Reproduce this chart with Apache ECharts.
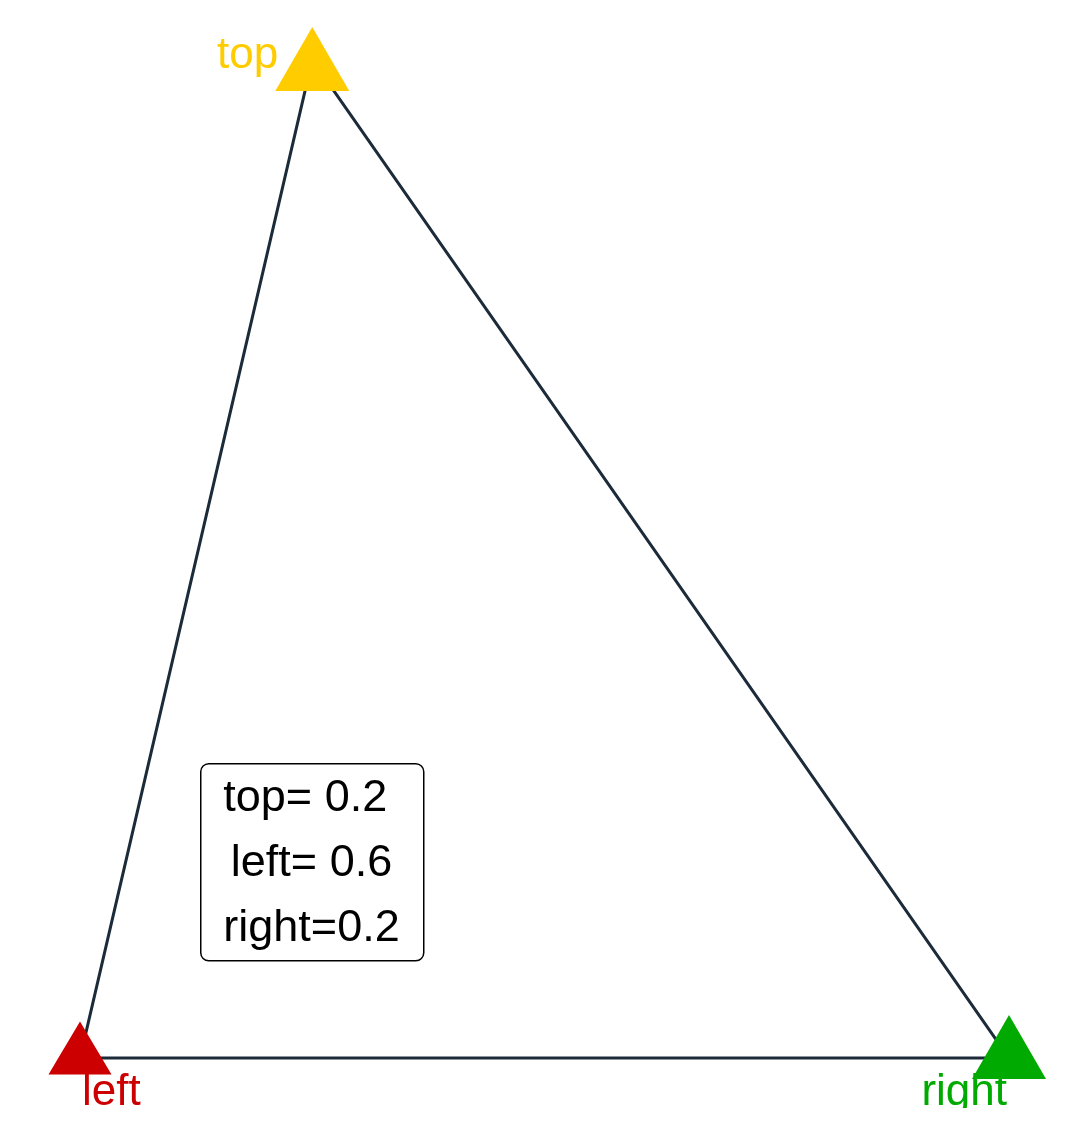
<!DOCTYPE html>
<html>
<head>
<meta charset="utf-8">
<script src="https://cdn.jsdelivr.net/npm/echarts@6/dist/echarts.min.js"></script>
<style>html,body{margin:0;padding:0;background:#fff}#c{width:1078px;height:1143px}</style>
</head>
<body>
<div id="c"></div>
<script>
// vertex names and their (x, y) position in the frame
var vertexNames = ['top', 'left', 'right'];
var vertexX = [0.25, 0, 1];
var vertexY = [1, 0, 0];
var vertexColors = ['#FFCC00', '#CC0000', '#00AA00'];
// composition shown in the box
var boxPrefixes = ['top= ', 'left= ', 'right='];
var boxSuffixes = [' ', '', ''];
var boxValues = [0.2, 0.6, 0.2];

var pts = vertexNames.map(function (n, i) { return [vertexX[i], vertexY[i]]; });
var edge = [pts[0], pts[1], pts[2], pts[0]];

var markerSizes = [[74, 64], [63, 53], [74, 64]];
var markerOffsets = [[0, -1], [0, -10], [0, -11]];
var labelOffsets = [[-34, -4], [2, 35], [-2, 35]];
var labelAligns = ['right', 'left', 'right'];

var boxText = boxPrefixes.map(function (p, i) { return p + boxValues[i].toFixed(1) + boxSuffixes[i]; }).join('\n');

var chart = echarts.init(document.getElementById('c'));
chart.setOption({
  animation: false,
  backgroundColor: '#ffffff',
  grid: { left: 80, right: 69, top: 0, bottom: 35 },
  xAxis: { type: 'value', min: 0, max: 1, show: false },
  yAxis: { type: 'value', min: -0.05, max: 1.06, show: false },
  series: [
    {
      type: 'line',
      data: edge,
      symbol: 'none',
      clip: false,
      lineStyle: { color: '#1c2b39', width: 3 },
      z: 1
    },
    {
      type: 'scatter',
      clip: false,
      data: pts.map(function (p, i) {
        return {
          value: p,
          symbol: 'triangle',
          symbolSize: markerSizes[i],
          symbolOffset: markerOffsets[i],
          itemStyle: { color: vertexColors[i], opacity: 1 }
        };
      }),
      z: 3
    },
    {
      type: 'custom',
      clip: true,
      data: pts,
      renderItem: function (params, api) {
        var i = params.dataIndex;
        var c = api.coord([api.value(0), api.value(1)]);
        return {
          type: 'text',
          x: c[0] + labelOffsets[i][0],
          y: c[1] + labelOffsets[i][1],
          style: {
            text: vertexNames[i],
            fill: vertexColors[i],
            font: '44px "Liberation Sans", Arial, sans-serif',
            align: labelAligns[i],
            verticalAlign: 'middle'
          }
        };
      },
      z: 4
    }
  ],
  graphic: [
    {
      type: 'rect',
      left: 200, top: 763,
      shape: { width: 223, height: 197, r: 8 },
      style: { fill: '#ffffff', stroke: '#000000', lineWidth: 1.5 },
      z: 10
    },
    {
      type: 'text',
      x: 311.5, y: 766,
      style: {
        text: boxText,
        fill: '#000000',
        font: '45px "Liberation Sans", Arial, sans-serif',
        lineHeight: 65,
        align: 'center',
        verticalAlign: 'top'
      },
      z: 11
    }
  ]
});
</script>
</body>
</html>
